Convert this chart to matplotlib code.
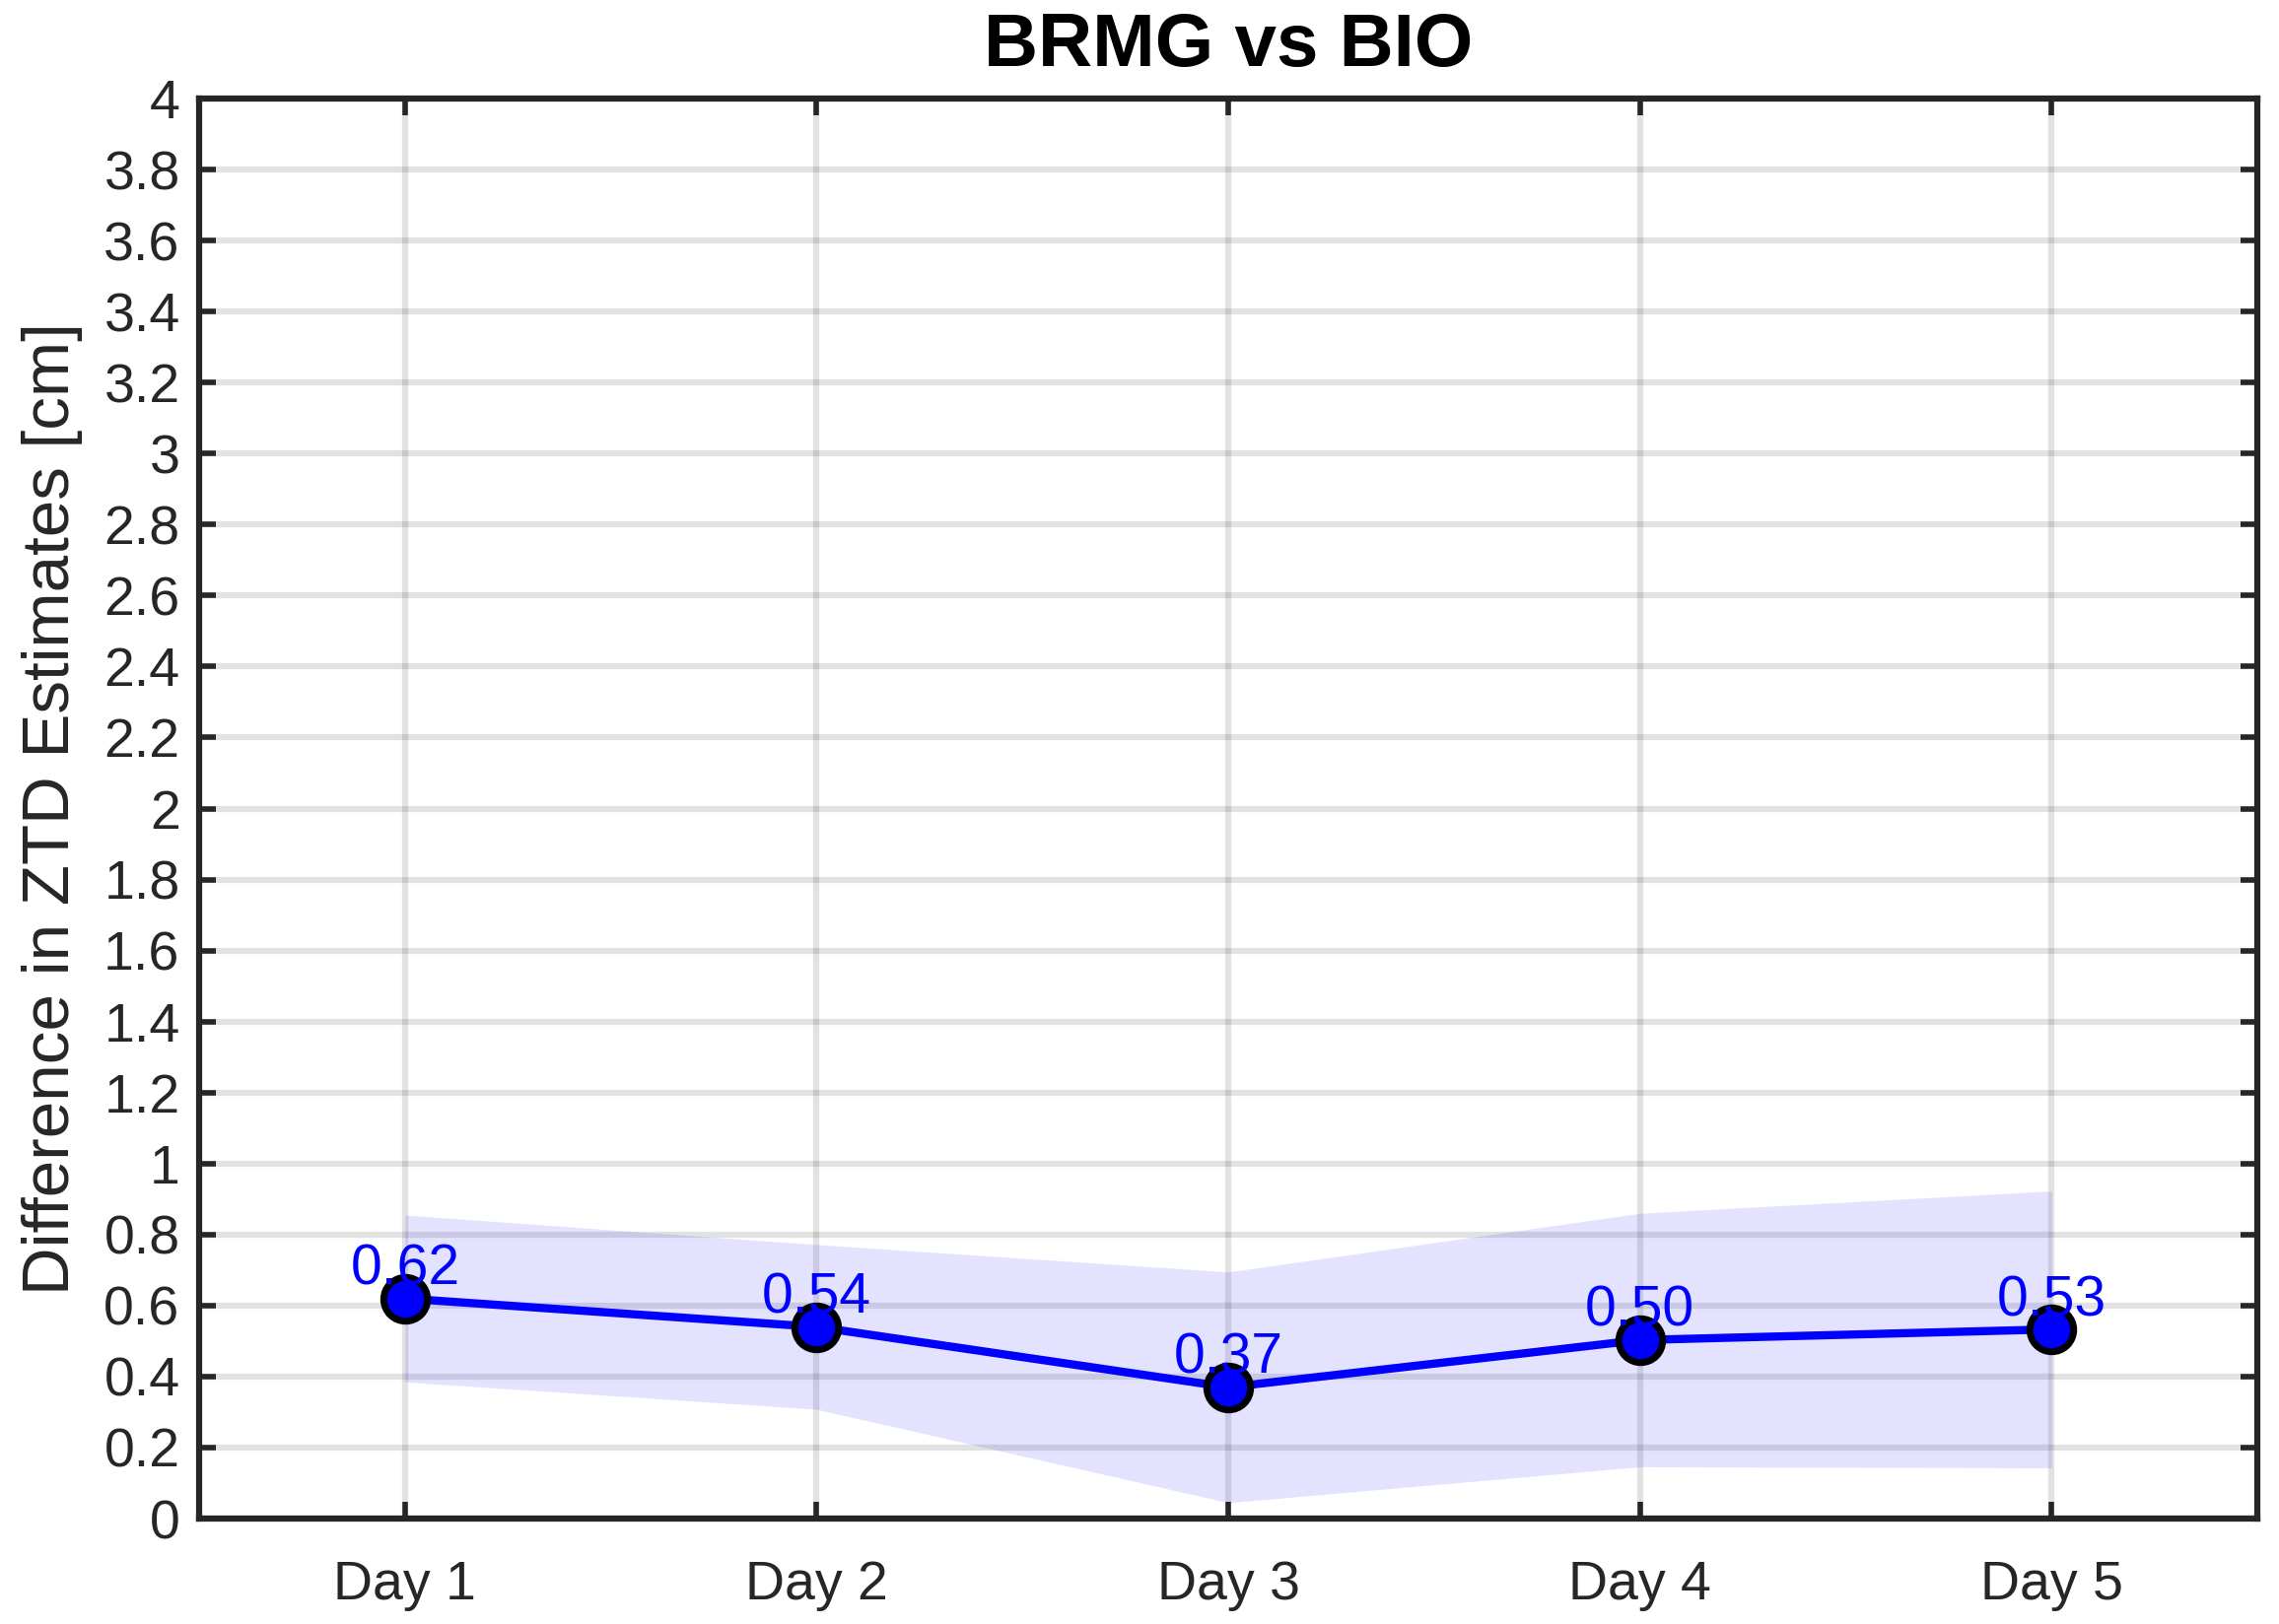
import numpy as np
import matplotlib
matplotlib.use("Agg")
import matplotlib.pyplot as plt

plt.rcParams['font.family'] = ['Liberation Sans', 'DejaVu Sans']

# Data
days = ['Day 1', 'Day 2', 'Day 3', 'Day 4', 'Day 5']
mean_diff = [0.62, 0.54, 0.37, 0.503, 0.533]
std_diff = [0.235, 0.232, 0.325, 0.357, 0.39]
y_ticks = [0, 0.2, 0.4, 0.6, 0.8, 1, 1.2, 1.4, 1.6, 1.8, 2, 2.2, 2.4, 2.6, 2.8,
           3, 3.2, 3.4, 3.6, 3.8, 4]

x = np.arange(1, len(days) + 1)
m = np.array(mean_diff)
s = np.array(std_diff)

fig = plt.figure(figsize=(23.12, 16.48), dpi=100)
ax = fig.add_axes([0.0874, 0.0649, 0.9031, 0.8744])

ax.fill_between(x, m - s, m + s, color='blue', alpha=0.11, linewidth=0, zorder=1)
ax.plot(x, m, '-o', color='blue', linewidth=6, markersize=32,
        markerfacecolor='blue', markeredgecolor='black', markeredgewidth=5, zorder=3)

for xi, yi in zip(x, m):
    ax.annotate(f'{yi:.2f}', (xi, yi), xytext=(0, 10), textcoords='offset points',
                ha='center', va='baseline', color='blue', fontsize=41, zorder=4)

ax.set_xlim(0.5, 5.5)
ax.set_ylim(0, 4)
ax.set_xticks(x)
ax.set_xticklabels(days)
ax.set_yticks(y_ticks)
ax.set_yticklabels([f'{v:g}' for v in y_ticks])

ax.grid(True, color=(0.15, 0.15, 0.15), alpha=0.13, linewidth=4.5, zorder=0)
ax.set_axisbelow(True)

for sp in ax.spines.values():
    sp.set_color('#262626')
    sp.set_linewidth(4.5)

ax.tick_params(axis='both', direction='in', length=12, width=4, color='#262626',
               labelcolor='#262626', labelsize=40, top=True, right=True)
ax.tick_params(axis='y', pad=14)
ax.tick_params(axis='x', pad=30)

ax.set_ylabel('Difference in ZTD Estimates [cm]', fontsize=48.5, color='#262626', labelpad=15)
ax.set_title('BRMG vs BIO', fontsize=55, fontweight='bold', pad=24)

fig.savefig('out.png', dpi=100, facecolor='white')
